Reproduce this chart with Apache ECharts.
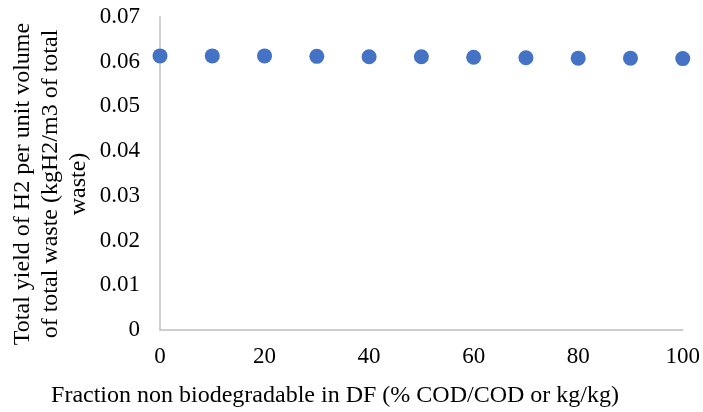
<!DOCTYPE html>
<html>
<head>
<meta charset="utf-8">
<script src="https://cdn.jsdelivr.net/npm/echarts@6/dist/echarts.min.js"></script>
<style>
  html, body { margin: 0; padding: 0; background: #fff; }
  #chart { width: 703px; height: 412px; }
</style>
</head>
<body>
<div id="chart"></div>
<script>
// Fraction of non-biodegradable material in DF (% COD/COD)
const fractions = [0, 10, 20, 30, 40, 50, 60, 70, 80, 90, 100];
// Total H2 yield per unit volume of total waste (kgH2/m3)
const h2Yield = [0.0613, 0.0613, 0.0613, 0.0612, 0.0611, 0.0611, 0.0610, 0.0609, 0.0608, 0.0608, 0.0607];

const xTitle = 'Fraction non biodegradable in DF (% COD/COD or kg/kg)';
const yTitle = 'Total yield of H2 per unit volume\nof total waste (kgH2/m3 of total\nwaste)';

const font = 'Liberation Serif, Times New Roman, serif';
const chart = echarts.init(document.getElementById('chart'), null, { renderer: 'canvas' });

chart.setOption({
  animation: false,
  backgroundColor: '#ffffff',
  grid: { left: 160, right: 19, top: 17, bottom: 82, containLabel: false },
  xAxis: {
    type: 'value',
    min: 0, max: 100, interval: 20,
    axisLine: { show: true, lineStyle: { color: '#bfbfbf', width: 1.5 } },
    axisTick: { show: false },
    splitLine: { show: false },
    axisLabel: { color: '#000', fontFamily: font, fontSize: 23, margin: 15 }
  },
  yAxis: {
    type: 'value',
    min: 0, max: 0.07, interval: 0.01,
    axisLine: { show: true, lineStyle: { color: '#bfbfbf', width: 1.5 } },
    axisTick: { show: false },
    splitLine: { show: false },
    axisLabel: {
      color: '#000', fontFamily: font, fontSize: 23, margin: 20,
      formatter: v => v === 0 ? '0' : v.toFixed(2)
    }
  },
  graphic: [
    {
      type: 'text',
      x: 51, y: 184,
      rotation: Math.PI / 2,
      style: {
        text: yTitle,
        fill: '#000',
        font: '24px ' + font,
        align: 'center',
        verticalAlign: 'middle',
        lineHeight: 28
      }
    },
    {
      type: 'text',
      x: 335, y: 396,
      style: {
        text: xTitle,
        fill: '#000',
        font: '24px ' + font,
        align: 'center',
        verticalAlign: 'middle'
      }
    }
  ],
  series: [{
    type: 'scatter',
    data: fractions.map((x, i) => [x, h2Yield[i]]),
    symbol: 'circle',
    symbolSize: 15,
    itemStyle: { color: '#4472c4', opacity: 1 }
  }]
});
</script>
</body>
</html>
